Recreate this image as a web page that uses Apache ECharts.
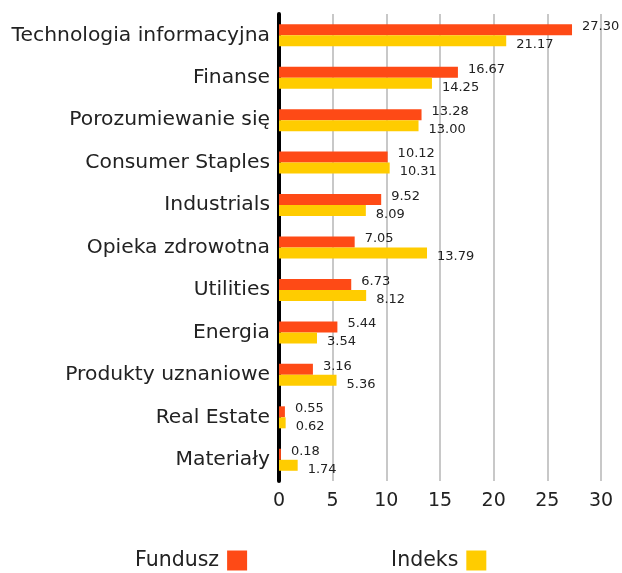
<!DOCTYPE html>
<html>
<head>
<meta charset="utf-8">
<script src="https://cdn.jsdelivr.net/npm/echarts@6/dist/echarts.min.js"></script>
<style>
  html, body { margin: 0; padding: 0; background: #fff; }
  #chart { width: 622px; height: 573px; }
</style>
</head>
<body>
<div id="chart"></div>
<script>
const categories = ['Technologia informacyjna', 'Finanse', 'Porozumiewanie się', 'Consumer Staples',
  'Industrials', 'Opieka zdrowotna', 'Utilities', 'Energia', 'Produkty uznaniowe', 'Real Estate', 'Materiały']
const fundusz = [27.30, 16.67, 13.28, 10.12, 9.52, 7.05, 6.73, 5.44, 3.16, 0.55, 0.18]
const indeks = [21.17, 14.25, 13.00, 10.31, 8.09, 13.79, 8.12, 3.54, 5.36, 0.62, 1.74]

const font = '"DejaVu Sans", sans-serif'

const chart = echarts.init(document.getElementById('chart'))
chart.setOption({
  animation: false,
  textStyle: { fontFamily: font },
  grid: { left: 279, right: 21, top: 14, bottom: 92, containLabel: false },
  legend: {
    left: 135,
    bottom: 2,
    padding: 0,
    align: 'right',
    itemWidth: 20,
    itemHeight: 20,
    itemGap: 144,
    icon: 'rect',
    textStyle: { fontSize: 20.5, color: '#222', fontFamily: font, padding: [0, 3, 0, 0] },
    data: ['Fundusz', 'Indeks']
  },
  xAxis: {
    type: 'value',
    min: 0,
    max: 30,
    interval: 5,
    axisLine: { show: false },
    axisTick: { show: false },
    axisLabel: { fontSize: 19, color: '#222', margin: 11 },
    splitLine: { lineStyle: { color: '#c8c8c8', width: 2 } }
  },
  yAxis: {
    type: 'category',
    inverse: true,
    data: categories,
    axisLine: { lineStyle: { color: '#000', width: 4 } },
    axisTick: { show: false },
    axisLabel: { fontSize: 20.3, color: '#222', margin: 9 }
  },
  series: [
    {
      name: 'Fundusz',
      type: 'bar',
      data: fundusz,
      barWidth: 11,
      barGap: '0%',
      itemStyle: { color: '#fe4a16' },
      label: {
        show: true, position: 'right', offset: [5, -3],
        formatter: p => p.value.toFixed(2), fontSize: 13, color: '#222'
      }
    },
    {
      name: 'Indeks',
      type: 'bar',
      data: indeks,
      barWidth: 11,
      itemStyle: { color: '#ffcc00' },
      label: {
        show: true, position: 'right', offset: [5, 4],
        formatter: p => p.value.toFixed(2), fontSize: 13, color: '#222'
      }
    }
  ]
})
</script>
</body>
</html>
